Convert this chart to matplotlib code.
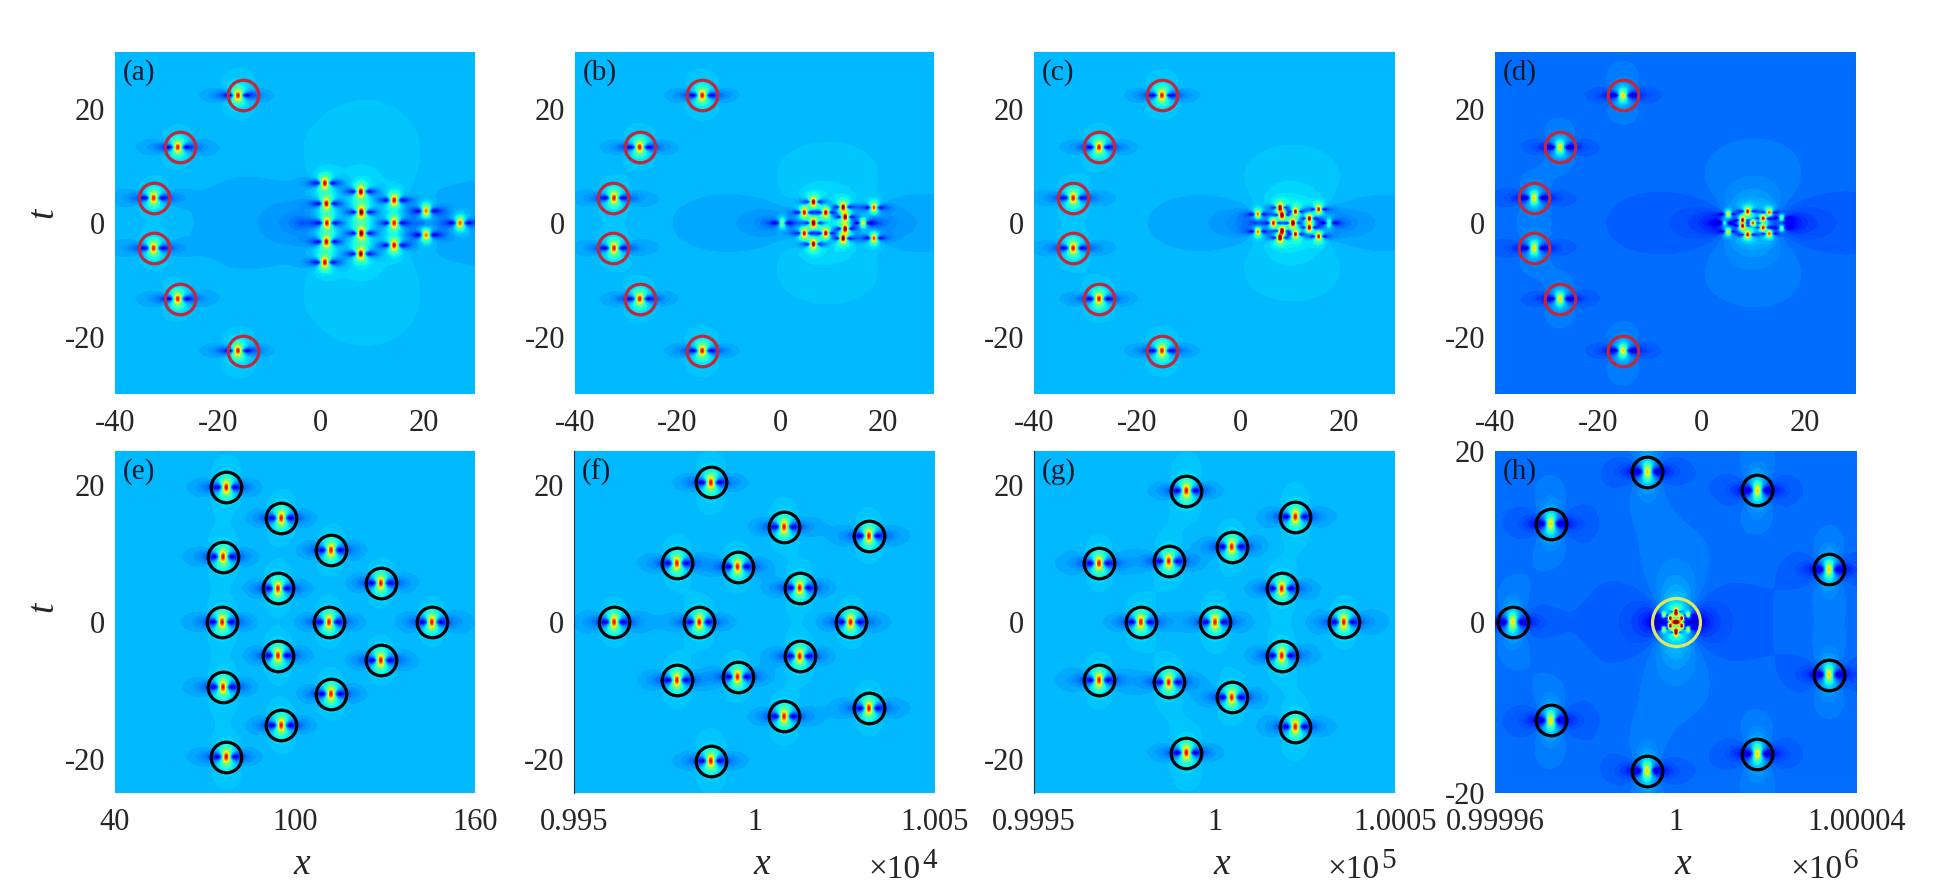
import numpy as np
import matplotlib
matplotlib.use('Agg')
import matplotlib.pyplot as plt

plt.rcParams['font.family'] = ['Liberation Serif', 'DejaVu Serif']

W, H = 1934, 886
TICK_COLOR = '#262626'

# ring of six peaks on the left of the top row
ring_x_a = [-16.1, -27.8, -32.5, -32.5, -27.8, -16.1]
ring_x = [-15.2, -27.4, -32.4, -32.4, -27.4, -15.2]
ring_t = [22.4, 13.3, 4.4, -4.4, -13.3, -22.4]
circle_x = [-15.2, -27.4, -32.5, -32.5, -27.4, -15.2]
circle_t = [22.5, 13.4, 4.4, -4.4, -13.3, -22.5]

# central clusters of the top row
a_x = [0.8, 1.1, 1.2, 1.1, 0.8, 7.8, 7.9, 7.9, 7.8, 14.3, 14.3, 14.3, 20.5, 20.5, 27.1]
a_t = [7.0, 3.4, 0, -3.3, -6.9, 5.5, 1.9, -1.8, -5.4, 4.0, 0, -3.9, 2.1, -2.1, 0]
b_x = [0.4, 4.7, 4.7, 6.5, 6.5, 6.5, 8.9, 8.9, 12.3, 12.3, 12.7, 12.7, 16.2, 18.3, 18.3]
b_t = [0, 1.85, -1.8, 3.7, 0, -3.7, 1.85, -1.8, 2.8, -2.7, 1.05, -1.0, 0, 2.7, -2.65]
c_x = [3.4, 3.4, 6.4, 7.7, 8.1, 8.1, 7.7, 10.7, 10.2, 10.7, 13.4, 13.4, 15.2, 15.2, 17.2]
c_t = [1.55, -1.5, 0, 2.7, 1.4, -1.4, -2.6, 2.0, 0, -1.95, 0.8, -0.8, 2.4, -2.35, 0]
d_x = [5.2, 4.5, 5.2, 9.0, 9.0, 10.0, 13.2, 13.2, 15.6, 15.6, 12.0, 12.0, 8.0, 8.0]
d_t = [1.55, 0, -1.5, 2.05, -2.05, 0, 1.87, -1.87, 0.88, -0.88, 0.8, -0.8, 0.5, -0.5]

# bottom row: peak positions, circles sit on the peaks
e_x = [77.1, 95.4, 112, 76, 128.6, 94.3, 75.7, 111.3, 145.6, 94.3, 128.6, 76, 112, 95.4, 77.1]
e_t = [19.7, 15.2, 10.5, 9.55, 5.7, 4.9, 0, 0, 0, -4.9, -5.6, -9.5, -10.5, -15.1, -19.7]
f_x = [9987.9, 10008.2, 10031.7, 9978.5, 9995.3, 10012.5, 9961.1, 9984.7, 10026.6,
       10012.5, 9978.5, 9995.3, 10008.2, 10031.7, 9987.9]
f_t = [20.4, 13.9, 12.6, 8.6, 8.1, 5.0, 0, 0, 0, -5.0, -8.5, -8.0, -13.8, -12.6, -20.3]
g_x = [99922, 100224, 100047.5, 99680, 99873, 100186, 99796, 100001.4, 100358,
       100186, 99680, 99873, 100047.5, 100224, 99922]
g_t = [19.2, 15.4, 11, 8.6, 8.9, 4.9, 0, 0, 0, -4.9, -8.5, -8.8, -11, -15.3, -19.1]
h_x = [999993.7, 1000018, 999972.3, 1000033.8, 999963.9, 1000033.8, 999972.3, 1000018, 999993.6]
h_t = [17.6, 15.4, 11.5, 6.15, 0, -6.15, -11.5, -15.4, -17.4]
# the star in the yellow circle of (h)
h_mid_x = [1000000]
h_mid_t = [0]
h_arc_x = [999997.3, 1000002.7, 999997.3, 1000002.7, 999998.7, 1000001.3, 999998.7, 1000001.3, 1000000, 1000000]
h_arc_t = [0.8, 0.8, -0.8, -0.8, 0.45, 0.45, -0.45, -0.45, 1.2, -1.2]

xt_top = [-40, -20, 0, 20]
xl_top = ['-40', '-20', '0', '20']
yt_top = [-20, 0, 20]
yl_top = ['-20', '0', '20']


def lump(X2, T):
    D = 1 + 4 * X2 + 4 * T ** 2
    return 0.5 * np.log(((D - 4) ** 2 + (8 * T) ** 2) / D ** 2 + 1e-6)


def log_field(xx, tt, xs, ts, px, pt, sx_px, st_px, far, r0, sat=0.3):
    # near a peak: thin core with long side dips (sat), further out only a weak tail
    out = np.zeros_like(xx)
    for x0, t0 in zip(xs, ts):
        dx = (xx - x0) * px
        dt = (tt - t0) * pt
        X = np.abs(dx) / sx_px
        T = dt / st_px
        near = np.exp(-((dx / 1.6) ** 2 + dt ** 2) / r0 ** 2)
        out += near * lump((X / (1 + sat * X)) ** 2, T) + far * (1 - near) * lump((X / 1.4) ** 2, T / 1.2)
    return out


def panel(box, xlim, ylim, groups, vmax, label, xticks, xlabels, yticks, ylabels,
          cx, ct, ccolor='black', left_line=False, halo=None):
    l, t, r, b = box
    ax = fig.add_axes([l / W, 1 - b / H, (r - l) / W, (b - t) / H])
    x = np.linspace(xlim[0], xlim[1], r - l)
    y = np.linspace(ylim[0], ylim[1], b - t)
    xx, tt = np.meshgrid(x, y)
    px = (r - l) / (xlim[1] - xlim[0])
    pt = (b - t) / (ylim[1] - ylim[0])
    lg = np.zeros_like(xx)
    for xs, ts, sx_px, st_px, far, r0 in groups:
        lg += log_field(xx, tt, xs, ts, px, pt, sx_px, st_px, far, r0)
    if halo is not None:
        # broad weak lump around a cluster: dark to the sides, light above and below
        hx, hs, ht, w = halo
        dx = (xx - hx) * px
        lg += w * lump((dx / hs) ** 2, tt * pt / ht)
    u = np.clip(np.exp(lg), 0, vmax * 0.999)
    step = vmax / 70
    levels = np.concatenate(([0], 1 + step / 2 + step * np.arange(-int(1 / step), int((vmax - 1) / step)), [vmax]))
    ax.contourf(xx, tt, u, levels=levels, cmap='jet', vmin=0, vmax=vmax, antialiased=False)
    ax.plot(cx, ct, 'o', mfc='none', mec=ccolor, ms=22, mew=2.3)
    ax.set_xlim(xlim)
    ax.set_ylim(ylim)
    ax.set_xticks(xticks)
    ax.set_xticklabels(xlabels)
    ax.set_yticks(yticks)
    ax.set_yticklabels(ylabels)
    ax.tick_params(length=0, labelsize=22, labelcolor=TICK_COLOR)
    ax.tick_params(axis='x', pad=11)
    ax.tick_params(axis='y', pad=7)
    for s in ax.spines.values():
        s.set_visible(False)
    if left_line:
        ax.spines['left'].set_visible(True)
        ax.spines['left'].set_linewidth(0.8)
        ax.spines['left'].set_color('#0a2a50')
    fig.text((l + 8) / W, 1 - (t + 21) / H, label, fontsize=21, color='#101828', va='center')
    return ax


def exponent(x, n):
    fig.text(x / W, 1 - 878 / H, '\u00d710', fontsize=24, color=TICK_COLOR)
    fig.text((x + 54) / W, 1 - 868 / H, n, fontsize=21, color=TICK_COLOR)


fig = plt.figure(figsize=(W / 100, H / 100), dpi=100)

top = [(115, 52, 475, 394), (575, 52, 934, 394), (1034, 52, 1395, 394), (1495, 52, 1856, 394)]
bot = [(115, 451, 475, 793), (574, 451, 935, 793), (1034, 451, 1395, 793), (1495, 451, 1857, 793)]
red = '#c2283c'

panel(top[0], (-40, 30), (-30, 30),
      [(ring_x_a, ring_t, 7, 6.5, 0.2, 15), (a_x, a_t, 6.5, 6.5, 0.1, 12)], 3.27, '(a)',
      xt_top, xl_top, yt_top, yl_top, circle_x, circle_t, red, halo=(8, 70, 55, 0.12))
panel(top[1], (-40, 30), (-30, 30),
      [(ring_x, ring_t, 7, 6.5, 0.2, 15), (b_x, b_t, 5, 5, 0.05, 10)], 3.27, '(b)',
      xt_top, xl_top, yt_top, yl_top, circle_x, circle_t, red, halo=(9, 50, 28, 0.2))
panel(top[2], (-40, 30), (-30, 30),
      [(ring_x, ring_t, 7, 6.5, 0.2, 15), (c_x, c_t, 4.5, 4.5, 0.05, 9)], 3.27, '(c)',
      xt_top, xl_top, yt_top, yl_top, circle_x, circle_t, red, halo=(10, 42, 24, 0.25))
panel(top[3], (-40, 30), (-30, 30),
      [(ring_x, ring_t, 7, 7, 0.4, 15), (d_x, d_t, 4.5, 4, 0.05, 8)], 4.3, '(d)',
      xt_top, xl_top, yt_top, yl_top, circle_x, circle_t, red, halo=(10, 38, 24, 0.42))

panel(bot[0], (40, 160), (-25, 25), [(e_x, e_t, 7, 8.5, 0.2, 15)], 3.27, '(e)',
      [40, 100, 160], ['40', '100', '160'], yt_top, yl_top, e_x, e_t)
panel(bot[1], (9950, 10050), (-25, 25), [(f_x, f_t, 7, 8.5, 0.2, 15)], 3.27, '(f)',
      [9950, 10000, 10050], ['0.995', '1', '1.005'], yt_top, yl_top, f_x, f_t, left_line=True)
panel(bot[2], (99500, 100500), (-25, 25), [(g_x, g_t, 7, 8.5, 0.25, 15)], 3.27, '(g)',
      [99500, 100000, 100500], ['0.9995', '1', '1.0005'], yt_top, yl_top, g_x, g_t, left_line=True)
ax_h = panel(bot[3], (999960, 1000040), (-20, 20),
             [(h_x, h_t, 7.5, 10, 0.6, 16), (h_mid_x, h_mid_t, 9, 9, 0.3, 14), (h_arc_x, h_arc_t, 3, 3.5, 0.02, 5)],
             4.3, '(h)',
             [999960, 1000000, 1000040], ['0.99996', '1', '1.00004'], yt_top, yl_top,
             h_x, h_t, halo=(1000000, 24, 30, 0.45))
ax_h.plot([1000000], [0], 'o', mfc='none', mec='#e2e85c', ms=34.5, mew=2.3)

# axis labels
for x in [302, 762, 1222, 1683]:
    fig.text(x / W, 1 - 865 / H, 'x', fontsize=27, style='italic', color=TICK_COLOR, ha='center', va='center')
fig.text(43 / W, 1 - 213 / H, 't', fontsize=27, style='italic', rotation=90, color=TICK_COLOR, ha='center', va='center')
fig.text(43 / W, 1 - 607 / H, 't', fontsize=27, style='italic', rotation=90, color=TICK_COLOR, ha='center', va='center')

exponent(868, '4')
exponent(1327, '5')
exponent(1790, '6')

fig.savefig('out.png', dpi=100)
